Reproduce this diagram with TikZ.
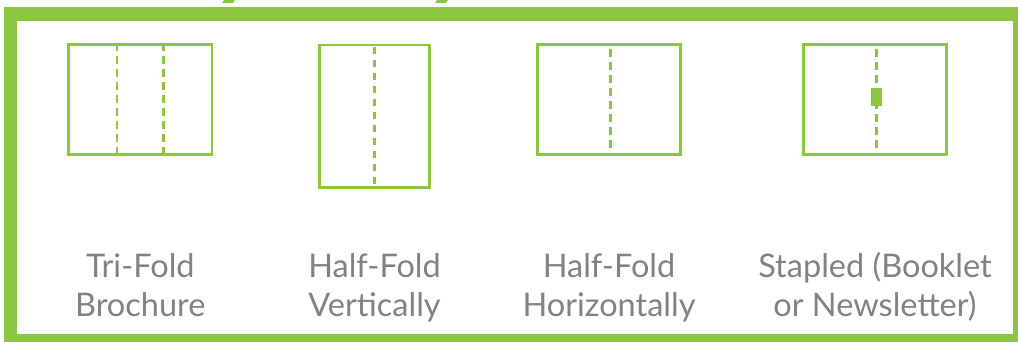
\documentclass[tikz,border=0pt]{standalone}
\usepackage{fontspec}
\setmainfont{Lato}
\usepackage{xcolor}
\definecolor{foldgreen}{HTML}{8CC63F}
\definecolor{labelgray}{HTML}{808285}
\tikzset{
  sheet/.style={draw=foldgreen, line width=2.6pt, inner sep=0pt},
  fold/.style={foldgreen, line width=2.6pt, dash pattern=on 7.5pt off 5.5pt},
  caption/.style={text=labelgray, font=\fontsize{32.5}{38.7}\selectfont, align=center, anchor=base}
}

\begin{document}
\begin{tikzpicture}[x=1pt, y=-1pt]
          \useasboundingbox (0,0) rectangle (1018,342);
          \clip (0,0) rectangle (1018,342);
          \fill[foldgreen] (224,0) -- (235,0) -- (233,3) -- (222,3) -- cycle;
          \fill[foldgreen] (437,0) -- (448,0) -- (446,3) -- (435,3) -- cycle;
          \draw[foldgreen, line width=13.5pt] (10.4,14.2) rectangle (1019.8,340.5);

          \node[sheet, minimum width=143.5pt, minimum height=110pt] (trifold)  at (140.3, 99.5) {};
          \node[sheet, minimum width=110pt, minimum height=142.5pt] (halfvert) at (374.5, 116.2) {};
          \node[sheet, minimum width=143.5pt, minimum height=110pt] (halfhor)  at (609, 99.5) {};
          \node[sheet, minimum width=143pt, minimum height=110pt] (stapled)  at (875, 99.5) {};
          \node[fill=foldgreen, inner sep=0pt, minimum width=10.7pt, minimum height=18pt] (staple) at ([xshift=1.5pt, yshift=2.5pt]stapled.center) {};

          \draw[fold] ([xshift=-23.4pt]trifold.north) -- ([xshift=-23.4pt]trifold.south);
          \draw[fold] ([xshift=23.4pt]trifold.north) -- ([xshift=23.4pt]trifold.south);
          \draw[fold] ([yshift=-3pt]halfvert.north) -- (halfvert.south);
          \draw[fold] ([xshift=1.3pt, yshift=-6pt]halfhor.north) -- ([xshift=1.3pt, yshift=6pt]halfhor.south);
          \draw[fold] ([yshift=-6pt]staple |- stapled.north) -- ([yshift=6pt]staple |- stapled.south);

          % base anchor sits on the second line
          \node[caption] (trifoldtxt)  at (140.3, 316) {Tri-Fold\\Brochure};
          \node[caption] (halfverttxt) at (374.5, 316) {Half-Fold\\Vertically};
          \node[caption] (halfhortxt)  at (609, 316) {Half-Fold\\Horizontally};
          \node[caption] (stapledtxt)  at (875, 316) {Stapled (Booklet\\or Newsletter)};
        \end{tikzpicture}
\end{document}
